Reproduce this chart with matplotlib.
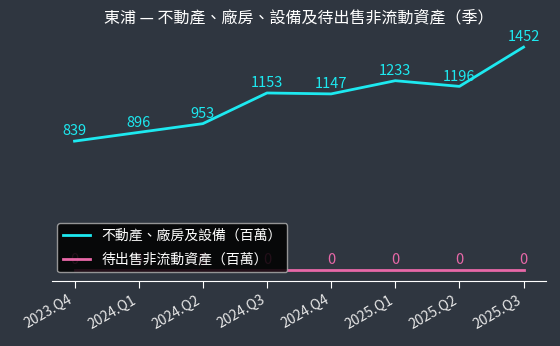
import matplotlib
matplotlib.use("Agg")
import matplotlib.pyplot as plt

plt.rcParams['font.family'] = ['Noto Sans CJK TC', 'DejaVu Sans']

quarters = ['2023.Q4', '2024.Q1', '2024.Q2', '2024.Q3', '2024.Q4', '2025.Q1', '2025.Q2', '2025.Q3']
ppe = [839, 896, 953, 1153, 1147, 1233, 1196, 1452]
held_for_sale = [0, 0, 0, 0, 0, 0, 0, 0]

bg = '#2f3640'
cyan = '#1de9f0'
pink = '#e868a8'

fig = plt.figure(figsize=(5.6, 3.46), dpi=100, facecolor=bg)
ax = fig.add_axes([0.093, 0.188, 0.882, 0.708], facecolor=bg)

x = range(len(quarters))
ax.plot(x, ppe, color=cyan, lw=2, label='不動產、廠房及設備（百萬）')
ax.plot(x, held_for_sale, color=pink, lw=2, label='待出售非流動資產（百萬）')

for i, v in enumerate(ppe):
    ax.annotate(str(v), (i, v), xytext=(0, 2), textcoords='offset points',
                ha='center', va='bottom', color=cyan, fontsize=10.5, zorder=2)
for i, v in enumerate(held_for_sale):
    ax.annotate(str(v), (i, v), xytext=(0, 2), textcoords='offset points',
                ha='center', va='bottom', color=pink, fontsize=10.5, zorder=2)

ax.set_xticks(list(x))
ax.set_xticklabels(quarters, rotation=30, ha='right', fontsize=10)
ax.set_yticks([])
for s in ['top', 'right', 'left']:
    ax.spines[s].set_visible(False)
ax.spines['bottom'].set_color('white')
ax.tick_params(axis='x', colors='white', length=5)
for lbl in ax.get_xticklabels():
    lbl.set_color('#e8e8e8')

ax.set_title('東浦 — 不動產、廠房、設備及待出售非流動資產（季）', color='white', fontsize=11.5, pad=10)

leg = ax.legend(loc='lower left', bbox_to_anchor=(0.01, 0.035), borderaxespad=0,
                fontsize=10, facecolor='black', edgecolor='#aaaaaa',
                framealpha=0.85, labelspacing=0.75)
leg.set_zorder(10)
for t in leg.get_texts():
    t.set_color('white')

fig.savefig('out.png', facecolor=bg)
